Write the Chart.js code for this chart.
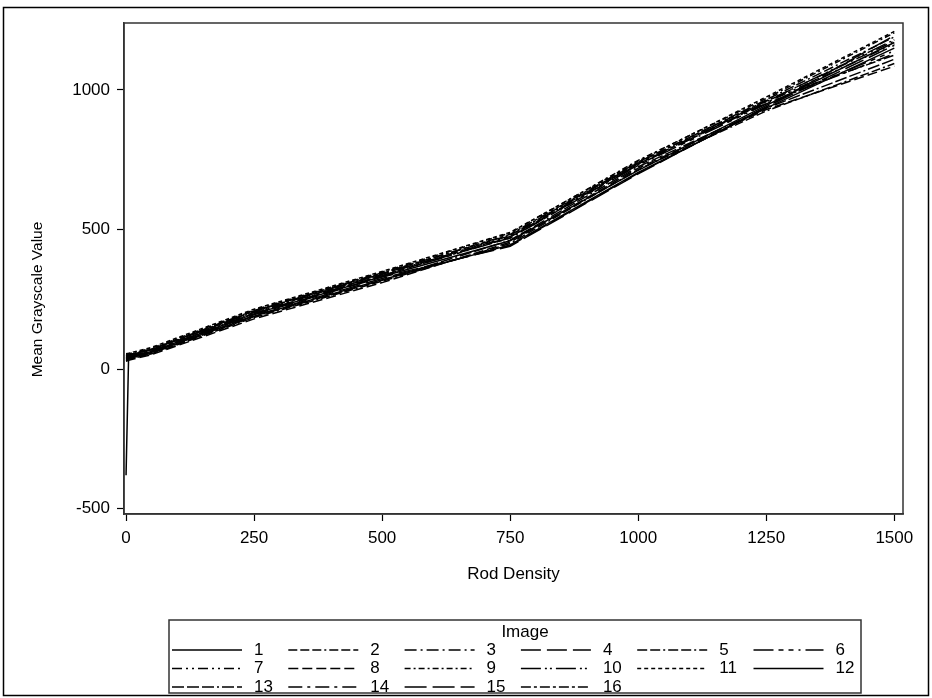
<!DOCTYPE html>
<html><head><meta charset="utf-8">
<script src="https://cdn.jsdelivr.net/npm/chart.js@4/dist/chart.umd.min.js"></script>
<style>html,body{margin:0;padding:0;background:#fff}#wrap{width:932px;height:698px}</style>
</head><body><div id="wrap"><canvas id="c" width="932" height="698"></canvas></div>
<script>
// ---- data ----
const rodDensity = [0, 5, 50, 250, 500, 750, 1000, 1250, 1500];
const image1  = [35, 40, 60, 190, 320, 445, 705, 935, 1150];
const image2  = [30, 35, 55, 185, 315, 450, 715, 925, 1095];
const image3  = [45, 48, 70, 205, 340, 475, 735, 960, 1175];
const image4  = [40, 45, 62, 195, 330, 440, 700, 940, 1160];
const image5  = [50, 52, 72, 210, 345, 480, 740, 965, 1190];
const image6  = [38, 42, 65, 200, 335, 470, 730, 950, 1140];
const image7  = [42, 46, 68, 203, 338, 478, 738, 955, 1165];
const image8  = [28, 32, 52, 180, 310, 455, 720, 930, 1085];
const image9  = [52, 55, 75, 212, 348, 488, 748, 970, 1205];
const image10 = [47, 50, 70, 207, 342, 470, 732, 958, 1180];
const image11 = [55, 57, 78, 215, 350, 490, 745, 975, 1210];
const image12 = [-380, 45, 63, 198, 332, 460, 712, 945, 1170];
const image13 = [33, 38, 57, 188, 318, 462, 725, 935, 1110];
const image14 = [44, 47, 66, 200, 335, 473, 736, 952, 1130];
const image15 = [36, 40, 60, 192, 325, 443, 702, 938, 1195];
const image16 = [48, 51, 71, 208, 343, 483, 742, 962, 1125];
const imageSeries = [image1,image2,image3,image4,image5,image6,image7,image8,
                     image9,image10,image11,image12,image13,image14,image15,image16];
const imageNames = ['1','2','3','4','5','6','7','8','9','10','11','12','13','14','15','16'];
const xTickValues = [0, 250, 500, 750, 1000, 1250, 1500];
const yTickValues = [-500, 0, 500, 1000];

// ---- styles ----
const dashStyles = [
  [], [9,3,9,3,9,3,2,3], [12,4,2,4], [20,6], [10,3,10,3,2,3], [20,5,5,5,5,5,2,5],
  [10,4,2,4,2,4], [10,4], [6,3,2,3], [20,4,2,3,2,4], [4,3], [],
  [12,3,12,3,12,3,2,3], [14,5,3,5], [22,6], [10,3,3,3]
];
const FONT = '"Liberation Sans", Arial, sans-serif';
Chart.defaults.font.family = FONT;
Chart.defaults.color = '#000';

const datasets = imageSeries.map((vals, i) => ({
  label: imageNames[i],
  data: rodDensity.map((x, k) => ({x: x, y: vals[k]})),
  borderColor: '#000',
  backgroundColor: '#000',
  borderWidth: 1.5,
  borderDash: dashStyles[i],
  pointRadius: 0,
  fill: false,
  tension: 0
}));

const framePlugin = {
  id: 'frame',
  afterLayout(chart) {
    // SAS places the vertical axis label a little below the axis middle
    const s = chart.scales.y;
    if (s && !s._shiftedTitle) {
      const orig = s.drawTitle.bind(s);
      s.drawTitle = function () {
        const t = this.top, b = this.bottom;
        this.top = t + 31; this.bottom = b + 31;
        orig();
        this.top = t; this.bottom = b;
      };
      s._shiftedTitle = true;
    }
  },
  afterDraw(chart) {
    const {ctx, chartArea: a} = chart;
    ctx.save();
    ctx.setLineDash([]);
    ctx.strokeStyle = '#333';
    ctx.lineWidth = 1.5;
    ctx.strokeRect(a.left, a.top, a.right - a.left, a.bottom - a.top);
    ctx.strokeStyle = '#000';
    ctx.lineWidth = 1.5;
    ctx.strokeRect(3.5, 7.5, 925, 688);
    ctx.restore();
  }
};

const gridLegend = {
  id: 'gridLegend',
  afterDraw(chart) {
    const ctx = chart.ctx;
    const L = 169, R = 861, T = 620, B = 693;
    ctx.save();
    ctx.setLineDash([]);
    ctx.strokeStyle = '#333';
    ctx.lineWidth = 1.5;
    ctx.strokeRect(L, T, R - L, B - T);
    ctx.fillStyle = '#000';
    ctx.font = '17px ' + FONT;
    ctx.textAlign = 'center';
    ctx.textBaseline = 'middle';
    ctx.fillText('Image', (L + R) / 2 + 10, 632);
    ctx.textAlign = 'left';
    chart.data.datasets.forEach((ds, i) => {
      const col = i % 6, row = Math.floor(i / 6);
      const x0 = L + 3 + col * 116.3;
      const y = 650 + row * 18.5;
      ctx.strokeStyle = '#000';
      ctx.lineWidth = 1.5;
      ctx.setLineDash(ds.borderDash || []);
      ctx.beginPath();
      ctx.moveTo(x0, y);
      ctx.lineTo(x0 + 70, y);
      ctx.stroke();
      ctx.setLineDash([]);
      ctx.fillText(ds.label, x0 + 82, y);
    });
    ctx.restore();
  }
};

new Chart(document.getElementById('c'), {
  type: 'line',
  data: {datasets: datasets},
  plugins: [framePlugin, gridLegend],
  options: {
    responsive: false,
    animation: false,
    devicePixelRatio: 1,
    layout: {padding: {top: 23, right: 29, bottom: 98, left: 0}},
    plugins: {legend: {display: false}, tooltip: {enabled: false}},
    scales: {
      x: {
        type: 'linear', min: -4, max: 1517,
        afterBuildTicks: s => { s.ticks = xTickValues.map(v => ({value: v})); },
        afterFit: s => { s.height = 86; },
        ticks: {font: {size: 17}, color: '#000', padding: 7, maxRotation: 0, autoSkip: false,
                callback: v => String(v)},
        grid: {drawOnChartArea: false, tickLength: 7, color: '#000', tickColor: '#000', tickWidth: 1.2},
        border: {color: '#333', width: 1.5},
        title: {display: true, text: 'Rod Density', font: {size: 17}, color: '#000', padding: {top: 4, bottom: 15}}
      },
      y: {
        type: 'linear', min: -519, max: 1240,
        afterBuildTicks: s => { s.ticks = yTickValues.map(v => ({value: v})); },
        afterFit: s => { s.width = 124; },
        ticks: {font: {size: 17}, color: '#000', padding: 7, autoSkip: false,
                callback: v => String(v)},
        grid: {drawOnChartArea: false, tickLength: 7, color: '#000', tickColor: '#000', tickWidth: 1.2},
        border: {color: '#333', width: 1.5},
        title: {display: true, text: 'Mean Grayscale Value', font: {size: 15.5}, color: '#000', padding: {top: 28, bottom: 0}}
      }
    }
  }
});
</script>
</body></html>
